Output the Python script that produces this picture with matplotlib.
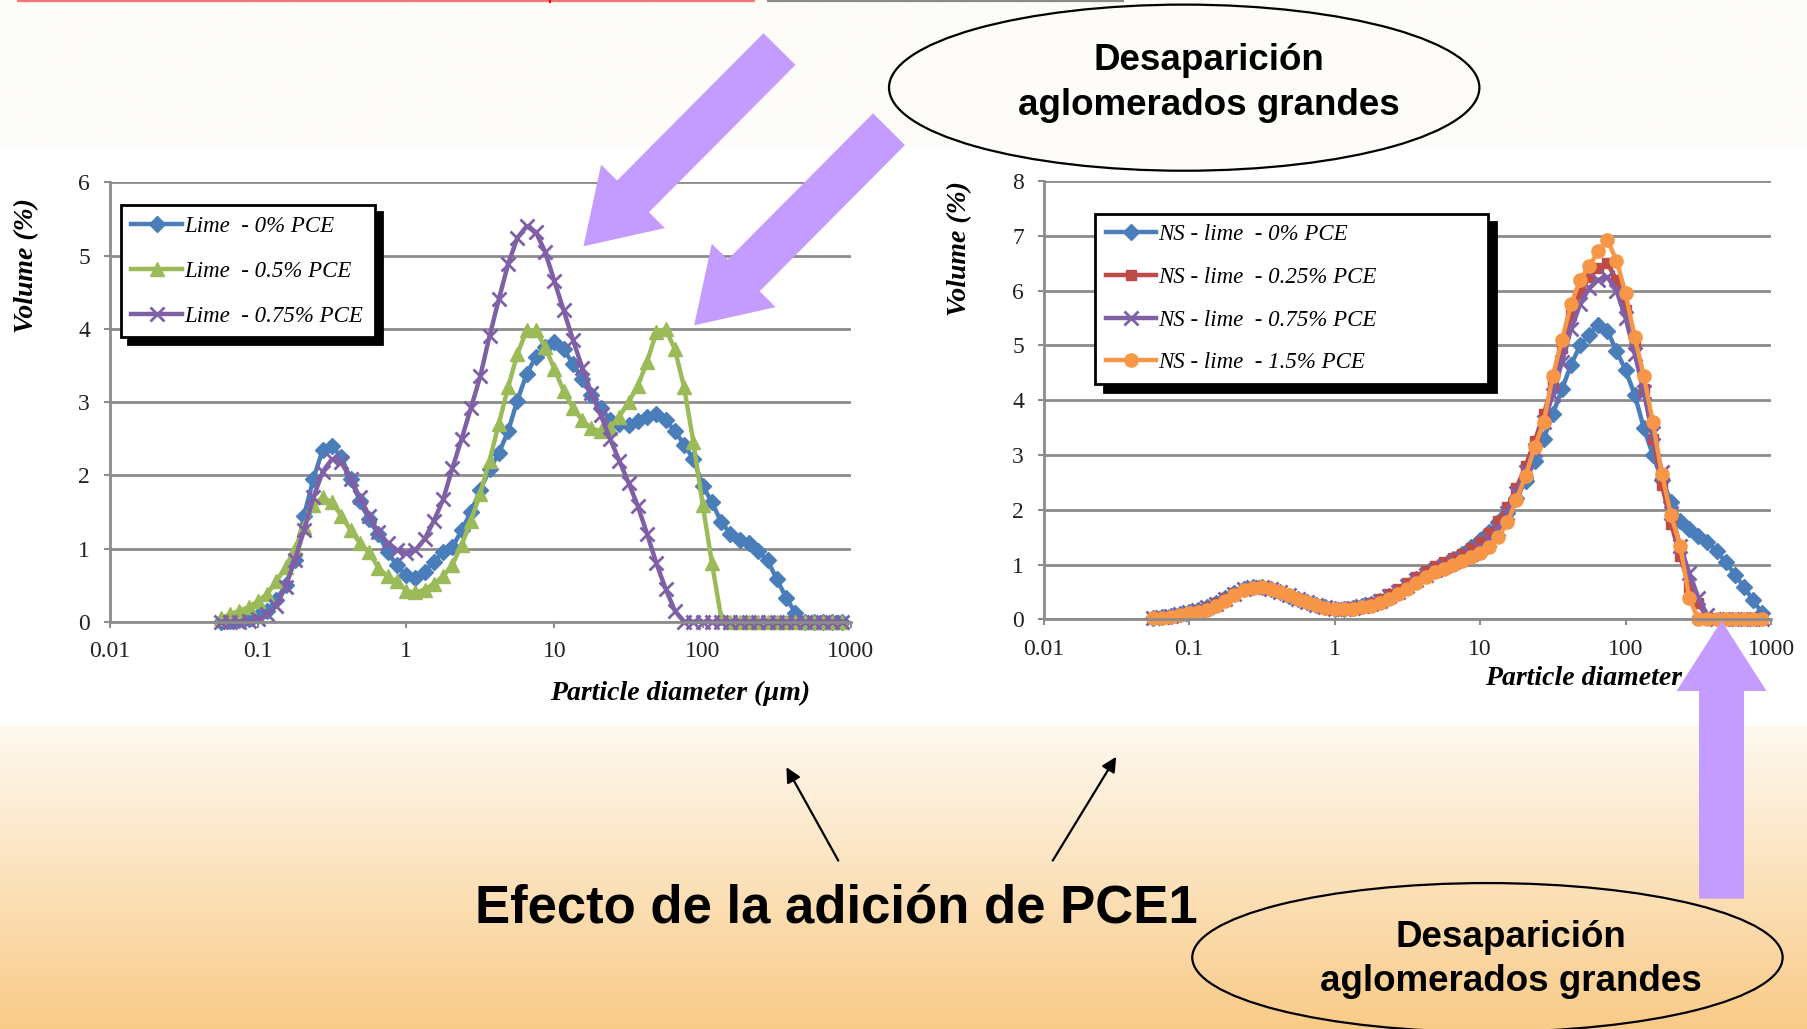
#!/usr/bin/env python3
"""Slide: effect of PCE1 on the particle size distribution of lime and NS-lime pastes."""
import numpy as np
import matplotlib

matplotlib.use("Agg")
import matplotlib.pyplot as plt  # noqa: E402
from matplotlib.patches import Ellipse, FancyArrow  # noqa: E402
from matplotlib.ticker import NullLocator  # noqa: E402

# laser diffraction size classes [um]
size_um = [0.0562, 0.0650, 0.0750, 0.0866, 0.100, 0.1155, 0.1334, 0.154, 0.178, 0.205,
           0.237, 0.274, 0.316, 0.365, 0.422, 0.487, 0.562, 0.649, 0.750, 0.866,
           1.00, 1.155, 1.334, 1.54, 1.778, 2.054, 2.371, 2.738, 3.162, 3.652,
           4.217, 4.87, 5.623, 6.494, 7.499, 8.66, 10.0, 11.55, 13.34, 15.4,
           17.78, 20.54, 23.71, 27.38, 31.62, 36.52, 42.17, 48.7, 56.23, 64.94,
           74.99, 86.6, 100.0, 115.5, 133.4, 154.0, 177.8, 205.4, 237.1, 273.8,
           316.2, 365.2, 421.7, 487.0, 562.3, 649.4, 749.9, 866.0]

# left chart: lime
lime_0 = [0.0, 0.01, 0.02, 0.04, 0.08, 0.15, 0.3, 0.5, 0.85, 1.45,
          1.95, 2.35, 2.4, 2.25, 1.95, 1.65, 1.4, 1.2, 0.95, 0.77,
          0.64, 0.6, 0.68, 0.82, 0.95, 1.02, 1.25, 1.5, 1.8, 2.08,
          2.3, 2.6, 3.02, 3.38, 3.62, 3.75, 3.82, 3.72, 3.52, 3.32,
          3.1, 2.92, 2.76, 2.7, 2.68, 2.74, 2.8, 2.83, 2.76, 2.6,
          2.42, 2.22, 1.86, 1.63, 1.36, 1.2, 1.12, 1.07, 0.96, 0.84,
          0.58, 0.33, 0.12, 0.0, 0.0, 0.0, 0.0, 0.0]
lime_05 = [0.05, 0.1, 0.15, 0.2, 0.28, 0.38, 0.55, 0.75, 1.0, 1.3,
           1.6, 1.7, 1.63, 1.45, 1.25, 1.08, 0.95, 0.74, 0.62, 0.55,
           0.42, 0.4, 0.44, 0.52, 0.62, 0.78, 1.05, 1.38, 1.75, 2.2,
           2.7, 3.2, 3.65, 3.98, 3.98, 3.75, 3.45, 3.15, 2.92, 2.75,
           2.64, 2.6, 2.65, 2.8, 3.0, 3.22, 3.55, 3.95, 4.0, 3.72,
           3.2, 2.45, 1.6, 0.8, 0.05, 0.0, 0.0, 0.0, 0.0, 0.0,
           0.0, 0.0, 0.0, 0.0, 0.0, 0.0, 0.0, 0.0]
lime_075 = [0.0, 0.0, 0.0, 0.01, 0.04, 0.1, 0.22, 0.48, 0.85, 1.25,
            1.7, 2.05, 2.22, 2.18, 1.95, 1.7, 1.45, 1.22, 1.08, 0.98,
            0.94, 0.98, 1.13, 1.38, 1.67, 2.1, 2.5, 2.92, 3.35, 3.9,
            4.4, 4.88, 5.24, 5.4, 5.32, 5.05, 4.65, 4.25, 3.85, 3.47,
            3.12, 2.82, 2.5, 2.2, 1.9, 1.58, 1.2, 0.8, 0.45, 0.15,
            0.0, 0.0, 0.0, 0.0, 0.0, 0.0, 0.0, 0.0, 0.0, 0.0,
            0.0, 0.0, 0.0, 0.0, 0.0, 0.0, 0.0, 0.0]

# right chart: NS - lime
ns_0 = [0.03, 0.05, 0.07, 0.1, 0.13, 0.17, 0.22, 0.3, 0.39, 0.48,
        0.55, 0.6, 0.6, 0.56, 0.5, 0.43, 0.37, 0.31, 0.26, 0.22,
        0.2, 0.2, 0.21, 0.24, 0.28, 0.34, 0.42, 0.51, 0.62, 0.74,
        0.84, 0.92, 0.99, 1.1, 1.2, 1.32, 1.45, 1.6, 1.78, 1.95,
        2.22, 2.52, 2.9, 3.3, 3.75, 4.2, 4.65, 5.0, 5.2, 5.38,
        5.27, 4.9, 4.55, 4.1, 3.5, 3.0, 2.55, 2.15, 1.8, 1.65,
        1.52, 1.42, 1.25, 1.05, 0.82, 0.6, 0.35, 0.12]
ns_025 = [0.03, 0.05, 0.07, 0.1, 0.13, 0.17, 0.22, 0.3, 0.39, 0.48,
          0.56, 0.6, 0.6, 0.56, 0.5, 0.43, 0.37, 0.31, 0.26, 0.22,
          0.2, 0.2, 0.22, 0.25, 0.3, 0.37, 0.46, 0.56, 0.67, 0.78,
          0.88, 0.97, 1.05, 1.12, 1.2, 1.3, 1.42, 1.58, 1.8, 2.05,
          2.4, 2.8, 3.25, 3.75, 4.3, 4.95, 5.55, 5.95, 6.25, 6.42,
          6.5, 6.2, 5.65, 5.0, 4.2, 3.3, 2.45, 1.75, 1.15, 0.6,
          0.3, 0.02, 0.0, 0.0, 0.0, 0.0, 0.0, 0.0]
ns_075 = [0.03, 0.05, 0.07, 0.1, 0.13, 0.17, 0.22, 0.29, 0.38, 0.47,
          0.55, 0.59, 0.6, 0.56, 0.5, 0.44, 0.38, 0.32, 0.27, 0.22,
          0.2, 0.2, 0.21, 0.24, 0.28, 0.34, 0.42, 0.51, 0.61, 0.72,
          0.82, 0.91, 0.98, 1.05, 1.12, 1.2, 1.3, 1.45, 1.65, 1.95,
          2.3, 2.7, 3.1, 3.6, 4.1, 4.7, 5.3, 5.75, 6.05, 6.2,
          6.25, 6.0, 5.5, 4.85, 4.15, 3.4, 2.7, 1.95, 1.35, 0.85,
          0.4, 0.08, 0.0, 0.0, 0.0, 0.0, 0.0, 0.0]
ns_15 = [0.02, 0.03, 0.05, 0.08, 0.11, 0.14, 0.18, 0.25, 0.34, 0.44,
         0.53, 0.58, 0.6, 0.56, 0.5, 0.44, 0.38, 0.32, 0.26, 0.21,
         0.19, 0.19, 0.2, 0.22, 0.25, 0.3, 0.38, 0.46, 0.55, 0.66,
         0.77, 0.86, 0.93, 1.0, 1.06, 1.14, 1.22, 1.33, 1.5, 1.77,
         2.18, 2.62, 3.15, 3.6, 4.45, 5.1, 5.75, 6.2, 6.45, 6.72,
         6.93, 6.55, 5.95, 5.15, 4.45, 3.6, 2.65, 1.9, 1.35, 0.4,
         0.0, 0.0, 0.0, 0.0, 0.0, 0.0, 0.0, 0.0]

decade_ticks = [0.01, 0.1, 1, 10, 100, 1000]
decade_labels = ["0.01", "0.1", "1", "10", "100", "1000"]

BLUE, GREEN, PURPLE, RED, ORANGE = "#4a7ebb", "#9bbb59", "#7f5fa5", "#be4b48", "#f79646"
LAVENDER = "#c49bff"
GRID = "#8c8c8c"
SERIF = "Liberation Serif"
SANS = "Liberation Sans"

W, H = 1568, 892  # layout grid of the slide (reference pixels)


def style_axes(ax, ymax):
    ax.set_xscale("log")
    ax.set_xlim(0.01, 1000)
    ax.set_ylim(0, ymax)
    ax.set_xticks(decade_ticks)
    ax.set_xticklabels(decade_labels)
    ax.xaxis.set_minor_locator(NullLocator())
    ax.set_yticks(range(ymax + 1))
    ax.yaxis.grid(True, color=GRID, lw=2.0)
    ax.set_axisbelow(True)
    for s in ("top", "right"):
        ax.spines[s].set_visible(False)
    for s in ("left", "bottom"):
        ax.spines[s].set_color(GRID)
        ax.spines[s].set_linewidth(2.0)
    ax.tick_params(direction="out", length=4, width=1.5, color=GRID, labelsize=17,
                   labelcolor="#222222", pad=10)
    for lab in ax.get_xticklabels() + ax.get_yticklabels():
        lab.set_family(SERIF)


def series(ax, y, color, marker, label, ms=8, mew=1.0):
    ax.plot(size_um, y, color=color, lw=3.2, marker=marker, ms=ms, mew=mew,
            mfc=color, mec=color, label=label, clip_on=False)


def legend(ax, anchor, shadow, spacing):
    leg = ax.legend(loc="upper left", bbox_to_anchor=anchor, mode="expand",
                    prop=dict(family=SERIF, style="italic", size=16.5),
                    frameon=True, fancybox=False, framealpha=1, edgecolor="black",
                    borderpad=0.45, labelspacing=spacing, handlelength=2.2, handletextpad=0.1,
                    borderaxespad=0, shadow=dict(ox=shadow, oy=-shadow, color="black", alpha=1))
    leg.get_frame().set_linewidth(2.0)


def labels(ax, xcoords, ycoords):
    ax.set_xlabel("Particle diameter (µm)", family=SERIF, weight="bold", style="italic",
                  fontsize=20)
    ax.xaxis.set_label_coords(*xcoords)
    ax.set_ylabel("Volume (%)", family=SERIF, weight="bold", style="italic", fontsize=20)
    ax.yaxis.set_label_coords(*ycoords)


fig = plt.figure(figsize=(18.08, 10.29), dpi=100)

# slide background
bg = fig.add_axes([0, 0, 1, 1], zorder=-2)
rows = np.ones((H, 1, 3))
rows[:127] = np.array([253, 252, 248]) / 255
t = np.linspace(0, 1, H - 629)[:, None]
top_c, bot_c = np.array([254, 249, 240]) / 255, np.array([249, 203, 136]) / 255
rows[629:, 0, :] = top_c * (1 - t) + bot_c * t
bg.imshow(rows, extent=[0, W, H, 0], aspect="auto", interpolation="bilinear")
bg.set_xlim(0, W)
bg.set_ylim(H, 0)
bg.axis("off")

# left chart: lime
axl = fig.add_axes([95 / W, 1 - 539 / H, 643 / W, 381 / H])
axl.set_facecolor("none")
series(axl, lime_0, BLUE, "D", "Lime  - 0% PCE", ms=8.5)
series(axl, lime_05, GREEN, "^", "Lime  - 0.5% PCE", ms=10.5)
series(axl, lime_075, PURPLE, "x", "Lime  - 0.75% PCE", ms=10, mew=2)
style_axes(axl, 6)
legend(axl, (0.0156, 0.5, 0.342, 0.4475), 5, 1.05)
labels(axl, (0.77, -0.135), (-0.095, 0.811))

# right chart: NS - lime
axr = fig.add_axes([905 / W, 1 - 537 / H, 631 / W, 380 / H])
axr.set_facecolor("none")
series(axr, ns_0, BLUE, "D", "NS - lime  - 0% PCE", ms=8.5)
series(axr, ns_025, RED, "s", "NS - lime  - 0.25% PCE", ms=7.5)
series(axr, ns_075, PURPLE, "x", "NS - lime  - 0.75% PCE", ms=10, mew=2)
series(axr, ns_15, ORANGE, "o", "NS - lime  - 1.5% PCE", ms=9.5)
style_axes(axr, 8)
legend(axr, (0.0713, 0.5, 0.539, 0.426), 6, 0.95)
labels(axr, (0.786, -0.105), (-0.098, 0.847))

# overlay: arrows, callouts, caption
ov = fig.add_axes([0, 0, 1, 1], zorder=10)
ov.set_xlim(0, W)
ov.set_ylim(H, 0)
ov.axis("off")
ov.patch.set_alpha(0)

# cut-off title at the very top edge
ov.plot([15, 655], [0.8, 0.8], color="#ff7474", lw=1.6, solid_capstyle="butt")
ov.plot([476, 478], [0.8, 0.8], color="#ff0000", lw=3, solid_capstyle="butt")
ov.plot([665, 975], [0.8, 0.8], color="#8a8a8a", lw=1.6, solid_capstyle="butt")

for (x0, y0), (x1, y1) in [((676, 42.5), (506, 213.5)), ((771, 112), (602, 282)),
                           ((1493, 779), (1493, 538))]:
    ov.add_patch(FancyArrow(x0, y0, x1 - x0, y1 - y0, width=39, head_width=78,
                            head_length=61, length_includes_head=True,
                            color=LAVENDER, lw=0))

for cx, cy, h, fill in [(1027, 76, 144, "#fdfcf8"), (1290, 830, 129, "none")]:
    ov.add_patch(Ellipse((cx, cy), 512, h, facecolor=fill, edgecolor="black", lw=1.6))

for cx, y1, y2 in [(1048, 61, 100), (1310, 821, 859)]:
    ov.text(cx, y1, "Desaparición", ha="center", va="baseline", family=SANS,
            weight="bold", fontsize=26.5)
    ov.text(cx, y2, "aglomerados grandes", ha="center", va="baseline", family=SANS,
            weight="bold", fontsize=26.5)

ov.text(725, 800, "Efecto de la adición de PCE1", ha="center", va="baseline", family=SANS,
        weight="bold", fontsize=38)

for tail, tip in [((727, 746), (682, 665)), ((913, 746), (968, 656))]:
    ov.annotate("", xy=tip, xytext=tail,
                arrowprops=dict(arrowstyle="-|>", color="black", lw=1.6, mutation_scale=22,
                                shrinkA=0, shrinkB=0))

fig.savefig("out.png", dpi=100)
plt.close(fig)
